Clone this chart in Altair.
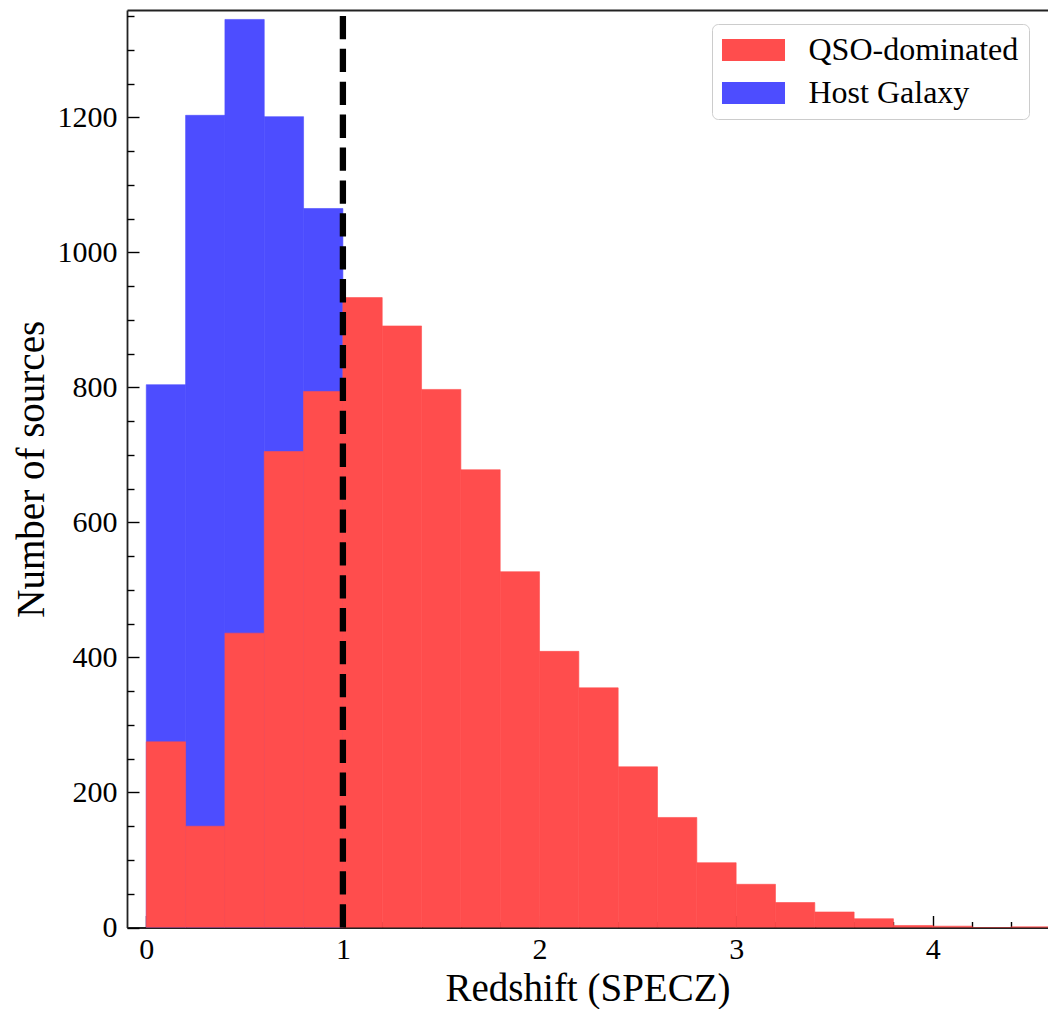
import altair as alt
import pandas as pd

# ---- data ----
BIN_WIDTH = 0.2
qso_counts = [275, 150, 436, 705, 794, 933, 891, 797, 678, 527, 409, 355,
              238, 163, 96, 64, 37, 23, 13, 3, 2, 0, 1]
host_counts = [804, 1203, 1345, 1201, 1065]
series_names = ["QSO-dominated", "Host Galaxy"]
series_colors = ["#ff4d4d", "#4d4dff"]
z_cut = [1.0]
x_major = [0, 1, 2, 3, 4]
x_minor = [0.2, 0.4, 0.6, 0.8, 1.2, 1.4, 1.6, 1.8, 2.2, 2.4, 2.6, 2.8,
           3.2, 3.4, 3.6, 3.8, 4.2, 4.4, 4.6]
y_major = [0, 200, 400, 600, 800, 1000, 1200]
y_minor = [50, 100, 150, 250, 300, 350, 450, 500, 550, 650, 700, 750,
           850, 900, 950, 1050, 1100, 1150, 1250, 1300, 1350]
x_domain = [-0.098, 4.586]
y_domain = [0, 1359]

rows = []
for i, c in enumerate(host_counts):
    rows.append({"start": round(i * BIN_WIDTH, 1), "end": round((i + 1) * BIN_WIDTH, 1),
                 "count": c, "base": 0, "series": series_names[1]})
for i, c in enumerate(qso_counts):
    rows.append({"start": round(i * BIN_WIDTH, 1), "end": round((i + 1) * BIN_WIDTH, 1),
                 "count": c, "base": 0, "series": series_names[0]})
df = pd.DataFrame(rows)
cut_df = pd.DataFrame({"z": z_cut, "y0": [y_domain[0]], "y1": [y_domain[1]]})

FONT = "Liberation Serif"
sx = alt.Scale(domain=x_domain, nice=False, zero=False)
sy = alt.Scale(domain=y_domain, nice=False, zero=False)
scol = alt.Scale(domain=series_names, range=series_colors)

bars = alt.Chart(df).mark_rect(clip=True, strokeWidth=0.6).encode(
    x=alt.X("start:Q", scale=sx, axis=alt.Axis(
        orient="bottom", values=x_major, title="Redshift (SPECZ)",
        tickSize={"expr": "-12"}, labelPadding=19, titlePadding=5,
        format="d", labelFontSize=30, titleFontSize=39)),
    x2="end:Q",
    y=alt.Y("count:Q", scale=sy, axis=alt.Axis(
        orient="left", values=y_major, title="Number of sources",
        tickSize={"expr": "-12"}, labelPadding=22, titlePadding=6,
        format="d", labelFontSize=30, titleFontSize=39)),
    y2="base:Q",
    stroke=alt.Stroke("series:N", scale=scol, legend=None),
    color=alt.Color("series:N", scale=scol,
                    legend=alt.Legend(
                        title=None, orient="none", legendX=585, legendY=14,
                        direction="vertical",
                        symbolType="M-2.864,-1H2.864V1H-2.864Z", symbolSize=484,
                        symbolOffset=15.5,
                        symbolStrokeWidth=0, symbolOpacity=1,
                        labelFont=FONT, labelFontSize=32, labelColor="black",
                        labelLimit=500, labelOffset=39, padding=10, rowPadding=11,
                        strokeColor="#cccccc", cornerRadius=6, fillColor="white")),
)

minor = alt.Chart(df).mark_point(opacity=0).encode(
    x=alt.X("start:Q", scale=sx, axis=alt.Axis(
        orient="bottom", values=x_minor, title=None, labels=False, domain=False,
        tickSize={"expr": "-6"})),
    y=alt.Y("count:Q", scale=sy, axis=alt.Axis(
        orient="left", values=y_minor, title=None, labels=False, domain=False,
        tickSize={"expr": "-7"})),
)

top = alt.Chart(df).mark_point(opacity=0).encode(
    x=alt.X("start:Q", scale=sx, axis=alt.Axis(
        orient="top", title=None, labels=False, ticks=False, domain=True)),
    y=alt.Y("count:Q", scale=sy, axis=None),
)

cut = alt.Chart(cut_df).mark_rule(color="black", strokeWidth=6.3,
                                  strokeDash=[23.3, 9.6], strokeCap="butt").encode(
    x=alt.X("z:Q", scale=sx, axis=None),
    y=alt.Y("y0:Q", scale=sy, axis=None),
    y2="y1:Q",
)

chart = alt.layer(bars, minor, top, cut).resolve_axis(
    x="independent", y="independent"
).properties(
    width=921, height=917.5,
    autosize=alt.AutoSizeParams(type="none"),
    padding={"left": 127, "top": 10, "right": 0, "bottom": 82},
).configure_view(stroke=None).configure_axis(
    labelFont=FONT, titleFont=FONT, labelColor="black", titleColor="black",
    titleFontWeight="normal", domainColor="#222222", domainWidth=1.8,
    tickColor="black", tickWidth=1.4, grid=False,
)

chart.save("out.html", embed_options={"renderer": "svg", "actions": False})
